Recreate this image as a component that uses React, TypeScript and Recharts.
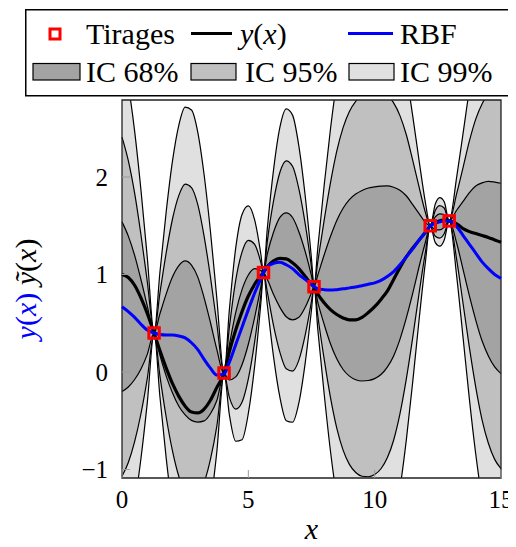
import React from "react";
import { ComposedChart, Area, Line, Scatter, XAxis, YAxis, ReferenceArea } from "recharts";

// abscissae of the sampled curves (sample sites included so the bands pinch there)
const xs = [
  0, 0.25, 0.5, 0.75, 1, 1.27, 1.5, 1.75, 2, 2.25, 2.5, 2.75, 3, 3.25, 3.5, 3.75, 4.04,
  4.25, 4.5, 4.75, 5, 5.25, 5.5, 5.6, 5.75, 6, 6.25, 6.5, 6.75, 7, 7.25, 7.5, 7.6,
  7.75, 8, 8.25, 8.5, 8.75, 9, 9.25, 9.5, 9.75, 10, 10.25, 10.5, 10.75, 11, 11.25, 11.5,
  11.75, 12, 12.2, 12.4, 12.575, 12.75, 12.95, 13.25, 13.5, 13.75, 14, 14.25, 14.5, 14.75, 15,
];

// RBF prediction (blue)
const rbf = [
  0.67, 0.62, 0.56, 0.49, 0.43, 0.4, 0.385, 0.38, 0.38, 0.37, 0.35, 0.3, 0.23, 0.13, 0.04, -0.03, -0.02,
  0.1, 0.28, 0.46, 0.64, 0.81, 0.96, 1.02, 1.08, 1.115, 1.125, 1.1, 1.06, 1.0, 0.95, 0.9, 0.875,
  0.855, 0.845, 0.84, 0.845, 0.853, 0.863, 0.873, 0.885, 0.9, 0.915, 0.94, 0.98, 1.03, 1.1, 1.18, 1.26,
  1.35, 1.43, 1.5, 1.525, 1.54, 1.55, 1.55, 1.49, 1.4, 1.31, 1.22, 1.13, 1.06, 1.0, 0.96,
];

// standard deviation
const sigma = [
  0.87, 0.774, 0.637, 0.459, 0.249, 0, 0.212, 0.422, 0.596, 0.721, 0.789, 0.796, 0.743, 0.631, 0.468, 0.265, 0,
  0.18, 0.33, 0.385, 0.355, 0.25, 0.08, 0, 0.129, 0.321, 0.462, 0.533, 0.525, 0.439, 0.286, 0.087, 0,
  0.14, 0.355, 0.55, 0.71, 0.827, 0.905, 0.952, 0.977, 0.987, 0.983, 0.966, 0.93, 0.865, 0.765, 0.628, 0.459,
  0.278, 0.107, 0, 0.066, 0.083, 0.066, 0, 0.172, 0.35, 0.53, 0.687, 0.81, 0.895, 0.948, 0.976,
];

// true function y(x) (black)
const truth = [
  1.0, 0.97, 0.89, 0.76, 0.6, 0.4, 0.22, 0.04, -0.12, -0.25, -0.35, -0.41, -0.42, -0.38, -0.29, -0.16, -0.01,
  0.21, 0.43, 0.62, 0.78, 0.9, 0.99, 1.02, 1.08, 1.14, 1.165, 1.16, 1.12, 1.06, 0.98, 0.9, 0.875,
  0.8, 0.71, 0.64, 0.59, 0.555, 0.535, 0.535, 0.56, 0.61, 0.67, 0.745, 0.83, 0.95, 1.07, 1.18, 1.27,
  1.35, 1.43, 1.5, 1.535, 1.55, 1.56, 1.55, 1.52, 1.47, 1.44, 1.42, 1.4, 1.38, 1.355, 1.33,
];

// tirages
const sampleX = [1.27, 4.04, 5.6, 7.6, 12.2, 12.95];
const sampleY = [0.4, -0.01, 1.02, 0.875, 1.5, 1.55];

const xTicks = [0, 5, 10, 15];
const yTicks = [-1, 0, 1, 2];

const rows = xs.map((x, i) => {
  const m = rbf[i];
  const s = sigma[i];
  return {
    x,
    y: truth[i],
    m,
    b68: [m - s, m + s],
    b95: [m - 2 * s, m + 2 * s],
    b99: [m - 3 * s, m + 3 * s],
  };
});
const samples = sampleX.map((x, i) => ({ x, y: sampleY[i] }));

const W = 508;
const H = 539;
const FONT = '"Liberation Serif", "DejaVu Serif", serif';
const C68 = "#a3a3a3";
const C95 = "#c0c0c0";
const C99 = "#e0e0e0";
const TICK = "#9a9a9a";

const fmt = (v: number) => (v < 0 ? `\u2212${Math.abs(v)}` : `${v}`);

const LeftTick = (p: any) => (
  <g>
    <line x1={p.x} x2={p.x + 8} y1={p.y} y2={p.y} stroke={TICK} strokeWidth={1} />
    <text x={p.x - 14} y={p.y} dy="0.34em" textAnchor="end" fontSize={25} fontFamily={FONT} fill="#000">
      {fmt(p.payload.value)}
    </text>
  </g>
);
const BottomTick = (p: any) => (
  <g>
    <line x1={p.x} x2={p.x} y1={p.y} y2={p.y - 8} stroke={TICK} strokeWidth={1} />
    <text x={p.x} y={p.y + 30} textAnchor="middle" fontSize={25} fontFamily={FONT} fill="#000">
      {fmt(p.payload.value)}
    </text>
  </g>
);
const TopTick = (p: any) => <line x1={p.x} x2={p.x} y1={p.y} y2={p.y + 8} stroke={TICK} strokeWidth={1} />;
const RightTick = (p: any) => <line x1={p.x - 8} x2={p.x} y1={p.y} y2={p.y} stroke={TICK} strokeWidth={1} />;

const YTitle = () => (
  <text x={28} y={281} transform="rotate(-90, 28, 281)" textAnchor="middle" fontSize={30} fontFamily={FONT}>
    <tspan fill="#0000ff">
      <tspan fontStyle="italic">y</tspan>(<tspan fontStyle="italic">x</tspan>)
    </tspan>
    <tspan fill="#000"> <tspan fontStyle="italic">{"\u1EF9"}</tspan>(<tspan fontStyle="italic">x</tspan>)</tspan>
  </text>
);
const XTitle = () => (
  <text x={303.5} y={531} textAnchor="middle" fontSize={30} fontFamily={FONT} fontStyle="italic">
    x
  </text>
);

const Square = (p: any) => (
  <rect x={p.cx - 5.25} y={p.cy - 5.25} width={10.5} height={10.5} fill="none" stroke="#ff0000" strokeWidth={3} />
);

function LegendBox() {
  const t = { fontFamily: FONT, fontSize: 30, fill: "#000" };
  return (
    <svg width={490} height={90} style={{ position: "absolute", left: 17, top: 1 }}>
      <rect x={0.75} y={0.75} width={487} height={86} fill="#fff" stroke="#000" strokeWidth={1.5} />
      <rect x={25} y={20} width={10} height={10} fill="none" stroke="#ff0000" strokeWidth={3} />
      <text x={61} y={34.5} {...t}>Tirages</text>
      <line x1={166} x2={207} y1={24.5} y2={24.5} stroke="#000" strokeWidth={3.2} />
      <text x={215} y={34.5} {...t}>
        <tspan fontStyle="italic">y</tspan>(<tspan fontStyle="italic">x</tspan>)
      </text>
      <line x1={323} x2={368} y1={24.5} y2={24.5} stroke="#0000ff" strokeWidth={3} />
      <text x={375} y={34.5} {...t}>RBF</text>
      <rect x={8} y={54.5} width={47} height={16.5} fill={C68} stroke="#000" strokeWidth={1.2} />
      <text x={61} y={72.5} {...t}>IC 68%</text>
      <rect x={166} y={54.5} width={45} height={16.5} fill={C95} stroke="#000" strokeWidth={1.2} />
      <text x={220} y={72.5} {...t}>IC 95%</text>
      <rect x={324} y={54.5} width={45} height={16.5} fill={C99} stroke="#000" strokeWidth={1.2} />
      <text x={375} y={72.5} {...t}>IC 99%</text>
    </svg>
  );
}

export default function App() {
  return (
    <div style={{ position: "relative", width: W, height: H }}>
      <ComposedChart width={W} height={H} data={rows} margin={{ top: 92, right: 15, bottom: 0, left: 0 }}>
        <XAxis
          dataKey="x"
          type="number"
          domain={[0, 15]}
          ticks={xTicks}
          height={69}
          axisLine={false}
          tickLine={false}
          tickSize={0}
          tickMargin={0}
          tick={<BottomTick />}
          label={<XTitle />}
        />
        <XAxis
          xAxisId="top"
          orientation="top"
          dataKey="x"
          type="number"
          domain={[0, 15]}
          ticks={xTicks}
          height={0}
          axisLine={false}
          tickLine={false}
          tickSize={0}
          tickMargin={0}
          tick={<TopTick />}
        />
        <YAxis
          type="number"
          domain={[-1.087, 2.79]}
          allowDataOverflow
          ticks={yTicks}
          width={114}
          axisLine={false}
          tickLine={false}
          tickSize={0}
          tickMargin={0}
          tick={<LeftTick />}
          label={<YTitle />}
        />
        <YAxis
          yAxisId="right"
          orientation="right"
          type="number"
          domain={[-1.087, 2.79]}
          allowDataOverflow
          ticks={yTicks}
          width={0}
          axisLine={false}
          tickLine={false}
          tickSize={0}
          tickMargin={0}
          tick={<RightTick />}
        />
        <Area type="monotone" dataKey="b99" fill={C99} fillOpacity={1} stroke="#000" strokeWidth={1.2} dot={false} activeDot={false} isAnimationActive={false} />
        <Area type="monotone" dataKey="b95" fill={C95} fillOpacity={1} stroke="#000" strokeWidth={1.2} dot={false} activeDot={false} isAnimationActive={false} />
        <Area type="monotone" dataKey="b68" fill={C68} fillOpacity={1} stroke="#000" strokeWidth={1.2} dot={false} activeDot={false} isAnimationActive={false} />
        <Line type="monotone" dataKey="y" stroke="#000" strokeWidth={3.2} dot={false} activeDot={false} isAnimationActive={false} />
        <Line type="monotone" dataKey="m" stroke="#0000ff" strokeWidth={3} dot={false} activeDot={false} isAnimationActive={false} />
        <Scatter data={samples} dataKey="y" shape={<Square />} isAnimationActive={false} />
        <ReferenceArea x1={0} x2={15} y1={-1.087} y2={2.79} fill="none" stroke="#222" strokeWidth={1.3} ifOverflow="visible" />
      </ComposedChart>
      <LegendBox />
    </div>
  );
}
